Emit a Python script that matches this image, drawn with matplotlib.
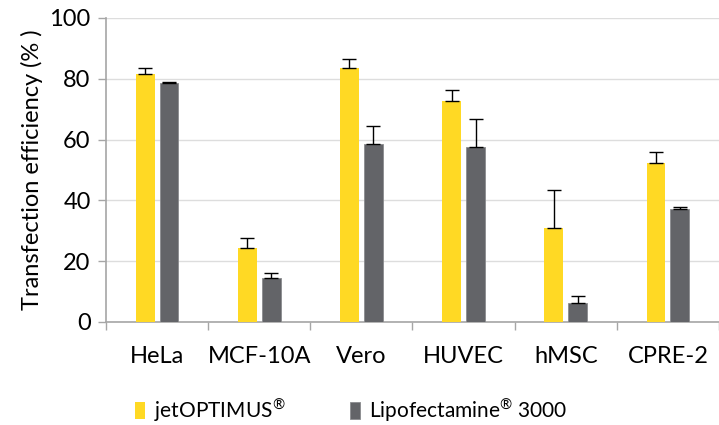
import matplotlib.pyplot as plt
import numpy as np

plt.rcParams['font.family'] = ['Lato', 'DejaVu Sans']
plt.rcParams['mathtext.fontset'] = 'custom'
plt.rcParams['mathtext.rm'] = 'Lato'

cells = ["HeLa", "MCF-10A", "Vero", "HUVEC", "hMSC", "CPRE-2"]
jet = [81.6, 24.3, 83.6, 72.8, 30.9, 52.3]
jet_err = [2.1, 3.3, 3.0, 3.4, 12.4, 3.7]
lipo = [78.5, 14.4, 58.6, 57.7, 6.1, 37.1]
lipo_err = [0.5, 1.6, 6.0, 9.2, 2.6, 0.6]

yellow = "#FFD924"
grey = "#636468"

fig = plt.figure(figsize=(7.19, 4.25), dpi=100)
ax = fig.add_axes([106/719, 1 - 322/425, 1 - 106/719, (322 - 18)/425])

x = np.arange(len(cells))
w = 0.185
off = 0.117
ax.bar(x - off, jet, w, color=yellow, label="jetOPTIMUS$^{\u00ae}$", zorder=3,
       yerr=[np.zeros(len(jet)), jet_err], capsize=5,
       error_kw=dict(ecolor="black", elinewidth=1, capthick=1))
ax.bar(x + off, lipo, w, color=grey, edgecolor="#8a8b8e", linewidth=0.6,
       label="Lipofectamine$^{\u00ae}$ 3000", zorder=3,
       yerr=[np.zeros(len(lipo)), lipo_err], capsize=5,
       error_kw=dict(ecolor="black", elinewidth=1, capthick=1))

ax.set_xlim(-0.5, 5.45)
ax.set_ylim(0, 100)
ax.set_yticks(np.arange(0, 101, 20))
ax.yaxis.grid(True, color="#DDDDDD", linewidth=1.0, zorder=0)
ax.set_axisbelow(True)

ax.set_xticks(x)
ax.set_xticklabels(cells)
ax.set_xticks(np.arange(-0.5, 6, 1), minor=True)
ax.tick_params(axis="x", which="major", length=0, pad=17, labelsize=17)
ax.tick_params(axis="x", which="minor", length=6, color="#A6A6A6", width=1)
ax.tick_params(axis="y", length=6, color="#A6A6A6", width=1, pad=5, labelsize=17)

for s in ["top", "right"]:
    ax.spines[s].set_visible(False)
for s in ["left", "bottom"]:
    ax.spines[s].set_color("#A6A6A6")
    ax.spines[s].set_linewidth(1.2)

ax.set_ylabel("Transfection efficiency (% )", fontsize=17, labelpad=5)

fig.legend(loc="center", bbox_to_anchor=(351/719, 1 - 410/425), ncol=2,
           frameon=False, fontsize=15, handlelength=0.5, handleheight=0.9,
           handletextpad=0.4, columnspacing=3.1)

fig.savefig("out.png", dpi=100)
